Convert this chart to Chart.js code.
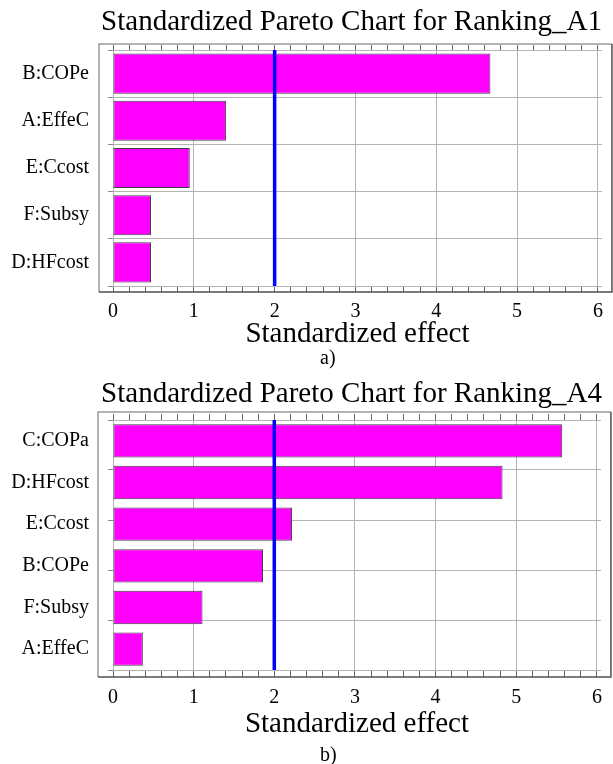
<!DOCTYPE html>
<html><head><meta charset="utf-8">
<script src="https://cdn.jsdelivr.net/npm/chart.js@4/dist/chart.umd.min.js"></script>
<style>
html,body{margin:0;padding:0;background:#fff;width:613px;height:764px;overflow:hidden}
canvas{position:absolute;left:0}
#c1{top:0}
#c2{top:372px}
.cap{position:absolute;font-family:"Liberation Serif","Times New Roman",serif;font-size:20px;line-height:20px;color:#000;white-space:nowrap}
</style></head><body>
<canvas id="c1" width="613" height="349"></canvas>
<canvas id="c2" width="613" height="367"></canvas>
<div class="cap" style="left:320px;top:347px">a)</div>
<div class="cap" style="left:320px;top:744px">b)</div>
<script>
// ---- data ----
const titleA = 'Standardized Pareto Chart for Ranking_A1';
const factorsA = ['B:COPe', 'A:EffeC', 'E:Ccost', 'F:Subsy', 'D:HFcost'];
const effectsA = [4.67, 1.40, 0.95, 0.47, 0.47];

const titleB = 'Standardized Pareto Chart for Ranking_A4';
const factorsB = ['C:COPa', 'D:HFcost', 'E:Ccost', 'B:COPe', 'F:Subsy', 'A:EffeC'];
const effectsB = [5.57, 4.83, 2.22, 1.86, 1.11, 0.37];

const xTickLabels = [0, 1, 2, 3, 4, 5, 6];
const threshold = 2.0;
const axisTitle = 'Standardized effect';

// ---- styling ----
const SERIF = '"Liberation Serif", "Times New Roman", serif';
const GRID = '#b4b4b4';
const isMajor = v => xTickLabels.some(t => Math.abs(t - v) < 1e-6);

const framePlugin = {
  id: 'frame',
  afterDraw(chart, args, o) {
    const a = chart.chartArea, c = chart.ctx;
    const L = a.left - o.l, T = a.top - o.t, R = a.right + o.r, B = a.bottom + o.b;
    c.save();
    c.lineWidth = 1.5;
    c.strokeStyle = '#9a9a9a';
    c.beginPath(); c.moveTo(L, B); c.lineTo(L, T); c.lineTo(R, T); c.stroke();
    c.strokeStyle = '#505050';
    c.beginPath(); c.moveTo(L, B); c.lineTo(R, B); c.lineTo(R, T); c.stroke();
    c.restore();
  }
};

function makeChart(id, title, labels, values, g) {
  const xCommon = {
    type: 'linear', min: 0, max: 6.05,
    ticks: { stepSize: 0.2, includeBounds: false, autoSkip: false, maxRotation: 0 },
  };
  return new Chart(document.getElementById(id), {
    data: {
      labels: labels,
      datasets: [
        {
          type: 'bar', indexAxis: 'y', data: values, xAxisID: 'x', yAxisID: 'y',
          backgroundColor: '#ff00ff', borderColor: '#404040', borderWidth: 1,
          borderSkipped: false, barPercentage: g.barPct, categoryPercentage: 1, order: 2
        },
        {
          type: 'line', data: [{ x: threshold, y: 0 }, { x: threshold, y: 5 }],
          xAxisID: 'x', yAxisID: 'yg', borderColor: '#0000ff', borderWidth: 3.5,
          pointRadius: 0, fill: false, clip: 4, order: 1
        }
      ]
    },
    plugins: [framePlugin],
    options: {
      responsive: false, animation: false, devicePixelRatio: 1,
      layout: { padding: { left: 0, right: 11, top: 0, bottom: 0 } },
      plugins: {
        legend: { display: false }, tooltip: { enabled: false },
        title: {
          display: true, text: title, align: 'end', color: '#000',
          font: { family: SERIF, size: 29, weight: 'normal', lineHeight: 1.2 },
          padding: { top: 5, bottom: g.titleBottom }
        },
        frame: g.frame
      },
      scales: {
        x: {
          ...xCommon, position: 'bottom',
          ticks: {
            ...xCommon.ticks, padding: g.tickPad, color: '#000',
            font: { family: SERIF, size: 20, lineHeight: 1 },
            callback: v => isMajor(v) ? String(Math.round(v)) : ''
          },
          grid: {
            color: ctx => (ctx.tick && isMajor(ctx.tick.value)) ? GRID : 'rgba(0,0,0,0)',
            tickColor: '#666', tickLength: g.xTick, lineWidth: 1
          },
          border: { display: false },
          title: {
            display: true, text: axisTitle, color: '#000',
            font: { family: SERIF, size: 29, lineHeight: 1 },
            padding: { top: g.axTitleTop, bottom: 0 }
          }
        },
        x2: {
          ...xCommon, position: 'top',
          ticks: { ...xCommon.ticks, display: false },
          grid: { drawOnChartArea: false, tickColor: '#666', tickLength: g.x2Tick },
          border: { display: false }
        },
        y: {
          type: 'category', position: 'left', weight: 1,
          grid: { display: false, drawTicks: false }, border: { display: false },
          ticks: { color: '#000', padding: 19, font: { family: SERIF, size: 20 } },
          afterFit: s => { s.width = 108; }
        },
        yg: {
          type: 'linear', position: 'left', weight: 0, min: 0, max: 5,
          ticks: { display: false, stepSize: 1 },
          grid: { color: GRID, tickColor: '#888', tickLength: 5 },
          border: { display: false }
        }
      }
    }
  });
}

makeChart('c1', titleA, factorsA, effectsA, {
  barPct: 0.85, titleBottom: 5.2, x2Tick: 5, xTick: 6, tickPad: 10, axTitleTop: -12,
  frame: { l: 14, t: 6, r: 10, b: 6 }
});
makeChart('c2', titleB, factorsB, effectsB, {
  barPct: 0.8, titleBottom: 2.2, x2Tick: 6, xTick: 7, tickPad: 11, axTitleTop: -9,
  frame: { l: 15, t: 8, r: 10, b: 7 }
});
</script>
</body></html>
